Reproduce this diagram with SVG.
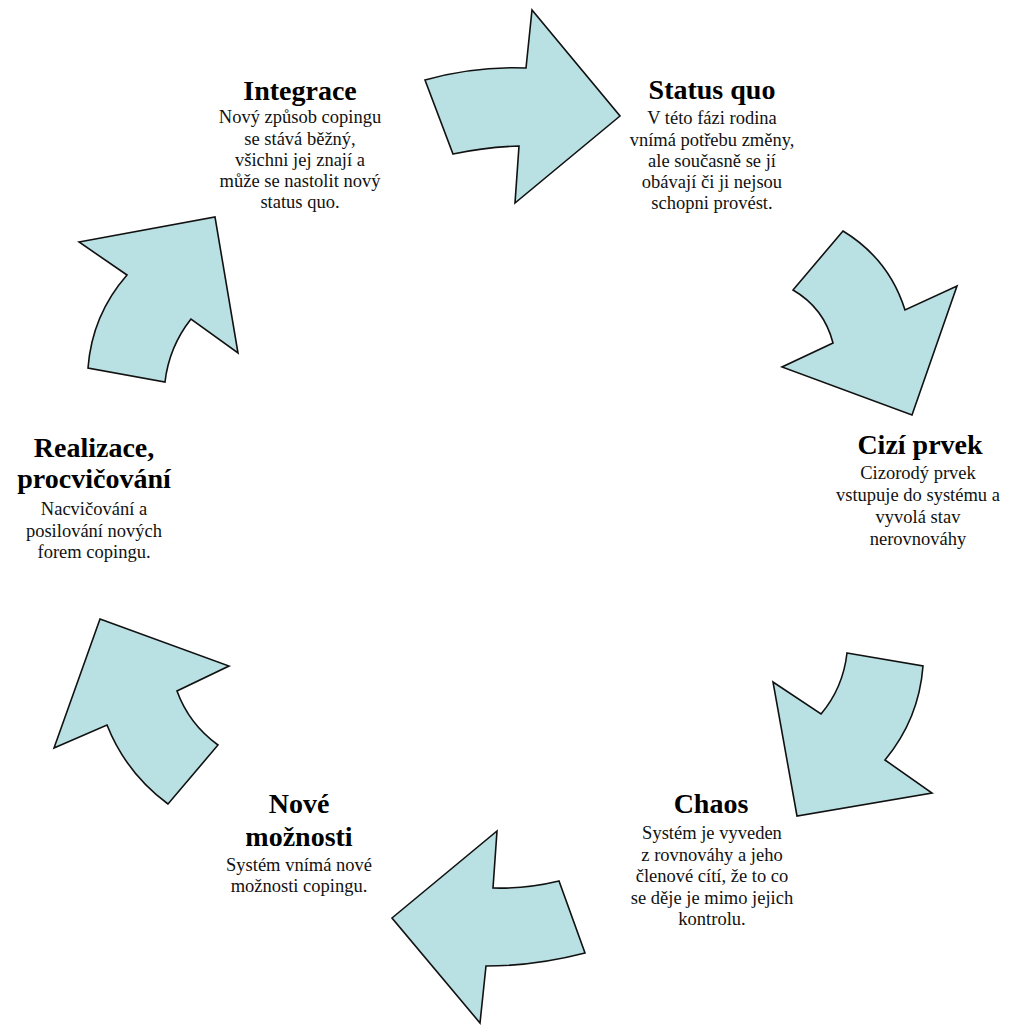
<svg xmlns="http://www.w3.org/2000/svg" width="1010" height="1025" viewBox="0 0 1010 1025">
<style>
.arrow{fill:#b9e0e3;stroke:#111;stroke-width:1.6;stroke-linejoin:miter}
.t{font-family:"Liberation Serif","Times New Roman",serif;font-weight:bold;font-size:28px;fill:#000;text-anchor:middle}
.b{font-family:"Liberation Serif","Times New Roman",serif;font-size:18.5px;fill:#111;text-anchor:middle}
</style>
<rect width="1010" height="1025" fill="#fff"/>
<g id="connectors">
<path id="arrow-top" class="arrow" d="M425,80 Q475,66 526,68 L532,10 L620,116 L515,203 L519,146 Q486,147 453,154 Z"/>
<path id="arrow-right-upper" class="arrow" d="M843,231 Q889,259 905,310 L957,286 L912,415 L782,367 L833,343 Q824,308 793,290 Z"/>
<path id="arrow-right-lower" class="arrow" d="M847,653 L923,666 Q919,719 885,760 L932,793 L797,816 L773,682 L821,714 Q843,688 847,653 Z"/>
<path id="arrow-bottom" class="arrow" d="M497,831 L493,888 Q526,889 559,881 L585,953 Q535,966 486,966 L480,1023 L392,918 Z"/>
<path id="arrow-left-lower" class="arrow" d="M100,619 L229,666 L177,691 Q189,724 218,745 L168,804 Q126,773 107,725 L54,748 Z"/>
<path id="arrow-left-upper" class="arrow" d="M79,242 L215,217 L238,353 L191,319 Q169,347 165,382 L88,368 Q92,315 127,275 Z"/>
</g>
<g id="node-integrace">
<text class="t" x="300" y="100">Integrace</text>
<text class="b" x="300" y="123">Nový způsob copingu</text>
<text class="b" x="300" y="145">se stává běžný,</text>
<text class="b" x="300" y="166">všichni jej znají a</text>
<text class="b" x="300" y="187">může se nastolit nový</text>
<text class="b" x="300" y="208">status quo.</text>
</g>
<g id="node-status-quo">
<text class="t" x="712" y="99">Status quo</text>
<text class="b" x="712" y="124">V této fázi rodina</text>
<text class="b" x="712" y="146">vnímá potřebu změny,</text>
<text class="b" x="712" y="167">ale současně se jí</text>
<text class="b" x="712" y="188">obávají či ji nejsou</text>
<text class="b" x="712" y="209">schopni provést.</text>
</g>
<g id="node-cizi-prvek">
<text class="t" x="920" y="454">Cizí prvek</text>
<text class="b" x="918" y="479">Cizorodý prvek</text>
<text class="b" x="918" y="501">vstupuje do systému a</text>
<text class="b" x="918" y="523">vyvolá stav</text>
<text class="b" x="918" y="545">nerovnováhy</text>
</g>
<g id="node-chaos">
<text class="t" x="711" y="813">Chaos</text>
<text class="b" x="712" y="839">Systém je vyveden</text>
<text class="b" x="712" y="861">z rovnováhy a jeho</text>
<text class="b" x="712" y="882">členové cítí, že to co</text>
<text class="b" x="712" y="904">se děje je mimo jejich</text>
<text class="b" x="712" y="925">kontrolu.</text>
</g>
<g id="node-nove-moznosti">
<text class="t" x="299" y="813">Nové</text>
<text class="t" x="299" y="846">možnosti</text>
<text class="b" x="299" y="871">Systém vnímá nové</text>
<text class="b" x="299" y="892">možnosti copingu.</text>
</g>
<g id="node-realizace">
<text class="t" x="94" y="457">Realizace,</text>
<text class="t" x="94" y="488">procvičování</text>
<text class="b" x="94" y="515">Nacvičování a</text>
<text class="b" x="94" y="537">posilování nových</text>
<text class="b" x="94" y="558">forem copingu.</text>
</g>
</svg>
